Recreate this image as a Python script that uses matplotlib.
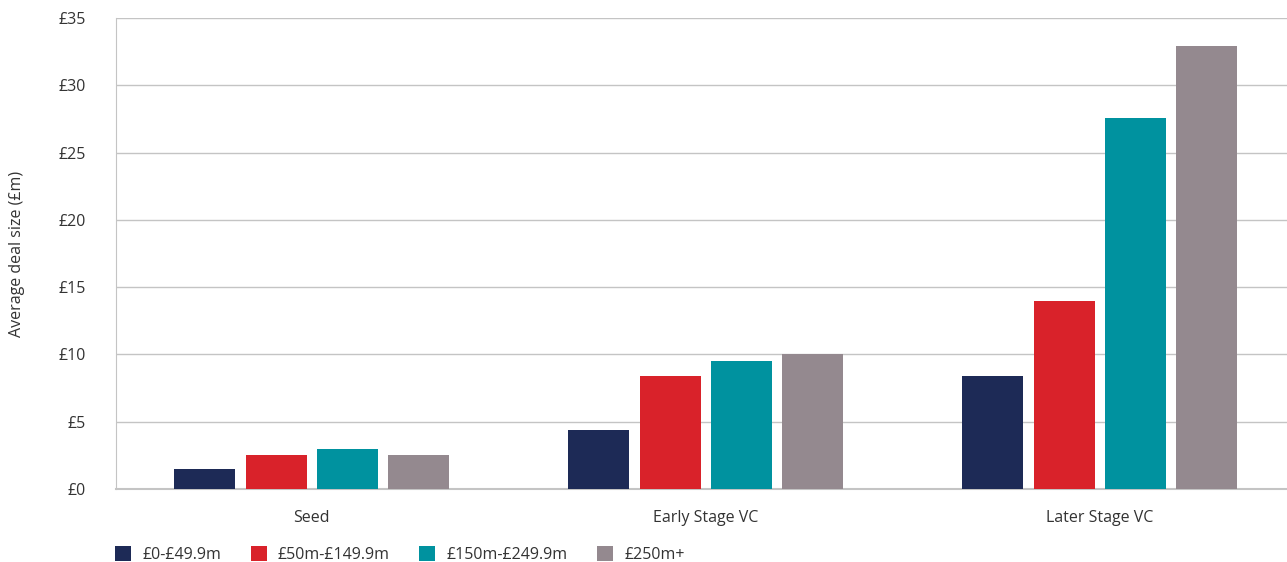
import matplotlib.pyplot as plt
import numpy as np

plt.rcParams['font.family'] = ['Open Sans', 'DejaVu Sans']

categories = ["Seed", "Early Stage VC", "Later Stage VC"]
series = ["£0-£49.9m", "£50m-£149.9m", "£150m-£249.9m", "£250m+"]
values = [
    [1.5, 4.4, 8.4],
    [2.5, 8.4, 14.0],
    [3.0, 9.5, 27.6],
    [2.5, 10.0, 32.9],
]
colors = ["#1d2a56", "#d9222a", "#00929f", "#94898f"]
yticks = [0, 5, 10, 15, 20, 25, 30, 35]

fig = plt.figure(figsize=(12.87, 5.62), dpi=100)
ax = fig.add_axes([0.0901, 0.1299, 0.9099, 0.8381])

x = np.arange(len(categories))
width = 0.155
step = 0.181
for i, (name, vals) in enumerate(zip(series, values)):
    ax.bar(x + (i - 1.5) * step, vals, width, color=colors[i], label=name, zorder=3)

ax.set_xlim(-0.497, 2.475)
ax.set_ylim(0, 35)
ax.set_yticks(yticks)
ax.set_yticklabels(["£%d" % t for t in yticks])
ax.set_xticks(x)
ax.set_xticklabels(categories)
ax.tick_params(length=0, labelsize=11.5, colors="#333333")
ax.tick_params(axis="y", pad=22)
ax.tick_params(axis="x", pad=15)
ax.grid(axis="y", color="#c4c4c4", linewidth=1, zorder=0)

for s in ["top", "right"]:
    ax.spines[s].set_visible(False)
ax.spines["left"].set_color("#c4c4c4")
ax.spines["bottom"].set_color("#c4c4c4")
ax.spines["bottom"].set_linewidth(1.5)

ax.set_ylabel("Average deal size (£m)", fontsize=11.5, color="#333333")
ax.yaxis.set_label_coords(-0.078, 0.5)

ax.legend(loc="upper left", bbox_to_anchor=(-0.013, -0.091), ncol=4, frameon=False,
          fontsize=11.5, handlelength=1.0, handleheight=1.0, columnspacing=1.85,
          handletextpad=0.7, labelcolor="#333333")

plt.savefig("out.png", dpi=100)
